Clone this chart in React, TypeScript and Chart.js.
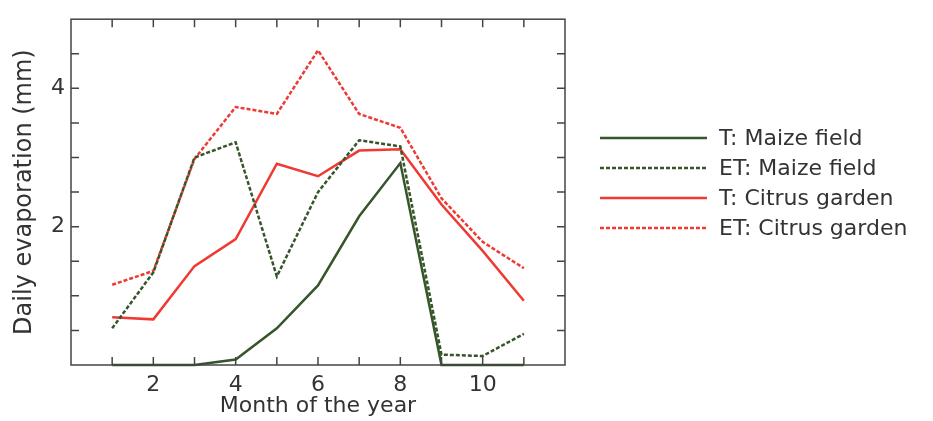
import React, { useEffect, useRef } from "react";
import { Chart, registerables } from "chart.js";

Chart.register(...registerables);

const months = [1, 2, 3, 4, 5, 6, 7, 8, 9, 10, 11];
const tMaize = [0, 0, 0, 0.08, 0.53, 1.15, 2.15, 2.92, 0, 0, 0];
const etMaize = [0.53, 1.34, 3.0, 3.22, 1.28, 2.5, 3.25, 3.16, 0.15, 0.13, 0.45];
const tCitrus = [0.69, 0.66, 1.43, 1.82, 2.91, 2.73, 3.1, 3.12, 2.32, 1.65, 0.93];
const etCitrus = [1.16, 1.36, 2.98, 3.73, 3.63, 4.55, 3.63, 3.43, 2.41, 1.78, 1.4];

const seriesLabels = ["T: Maize field", "ET: Maize field", "T: Citrus garden", "ET: Citrus garden"];
const xLabelTicks = [2, 4, 6, 8, 10];
const yLabelTicks = [2, 4];

const GREEN = "#36552a";
const RED = "#ee3a32";
const TEXT = "#333333";
const FONT = "'DejaVu Sans', sans-serif";

export default function App() {
  const ref = useRef<HTMLCanvasElement | null>(null);

  useEffect(() => {
    if (!ref.current) return;
    const mk = (vals: number[]) => months.map((m, i) => ({ x: m, y: vals[i] }));
    const styles = [
      { color: GREEN, dash: [] as number[] },
      { color: GREEN, dash: [4, 2] },
      { color: RED, dash: [] as number[] },
      { color: RED, dash: [4, 2] },
    ];
    const all = [tMaize, etMaize, tCitrus, etCitrus];

    const framePlugin = {
      id: "frame",
      afterDraw(chart: any) {
        const ctx = chart.ctx;
        const a = chart.chartArea;
        const xs = chart.scales.x;
        const ys = chart.scales.y;
        ctx.save();
        ctx.strokeStyle = "#444";
        ctx.lineWidth = 1.5;
        ctx.setLineDash([]);
        ctx.strokeRect(a.left, a.top, a.right - a.left, a.bottom - a.top);
        const tl = 8;
        ctx.beginPath();
        for (let v = 1; v <= 11; v++) {
          const px = xs.getPixelForValue(v);
          ctx.moveTo(px, a.bottom);
          ctx.lineTo(px, a.bottom - tl);
          ctx.moveTo(px, a.top);
          ctx.lineTo(px, a.top + tl);
        }
        for (let v = 0.5; v < 5; v += 0.5) {
          const py = ys.getPixelForValue(v);
          ctx.moveTo(a.left, py);
          ctx.lineTo(a.left + tl, py);
          ctx.moveTo(a.right, py);
          ctx.lineTo(a.right - tl, py);
        }
        ctx.stroke();

        // legend
        const lx0 = 600, lx1 = 707, tx = 719;
        const rows = [138, 168, 198, 228];
        ctx.font = `22px ${FONT}`;
        ctx.textBaseline = "middle";
        ctx.textAlign = "left";
        rows.forEach((y, i) => {
          ctx.strokeStyle = styles[i].color;
          ctx.lineWidth = 2.5;
          ctx.setLineDash(styles[i].dash);
          ctx.beginPath();
          ctx.moveTo(lx0, y);
          ctx.lineTo(lx1, y);
          ctx.stroke();
          ctx.setLineDash([]);
          ctx.fillStyle = TEXT;
          ctx.fillText(seriesLabels[i], tx, y + 1);
        });
        ctx.restore();
      },
    };

    const chart = new Chart(ref.current, {
      type: "line",
      data: {
        datasets: all.map((vals, i) => ({
          label: seriesLabels[i],
          data: mk(vals),
          borderColor: styles[i].color,
          backgroundColor: styles[i].color,
          borderDash: styles[i].dash,
          borderWidth: 2.5,
          pointRadius: 0,
          tension: 0,
          fill: false,
          clip: false as any,
        })),
      },
      options: {
        animation: false,
        responsive: true,
        maintainAspectRatio: false,
        layout: { padding: { top: 10, right: 368, left: 0, bottom: 0 } },
        plugins: { legend: { display: false }, tooltip: { enabled: false } },
        scales: {
          x: {
            type: "linear",
            min: 0,
            max: 12,
            grid: { display: false, drawTicks: false },
            border: { display: false },
            ticks: {
              stepSize: 1,
              autoSkip: false,
              maxRotation: 0,
              padding: 7,
              color: TEXT,
              font: { family: FONT, size: 22 },
              callback: (v: any) => (xLabelTicks.includes(Number(v)) ? String(v) : ""),
            },
            title: {
              display: true,
              text: "Month of the year",
              color: TEXT,
              font: { family: FONT, size: 22, lineHeight: 1.2 },
              padding: { top: 0, bottom: 2 },
            },
            afterFit: (s: any) => {
              s.height = 56;
            },
          },
          y: {
            min: 0,
            max: 5,
            grid: { display: false, drawTicks: false },
            border: { display: false },
            ticks: {
              stepSize: 0.5,
              autoSkip: false,
              padding: 6,
              color: TEXT,
              font: { family: FONT, size: 22 },
              callback: (v: any) => (yLabelTicks.includes(Number(v)) ? String(v) : ""),
            },
            title: {
              display: true,
              text: "Daily evaporation (mm)",
              color: TEXT,
              font: { family: FONT, size: 24, lineHeight: 1.2 },
              padding: { top: 10, bottom: 0 },
            },
            afterFit: (s: any) => {
              s.width = 71;
            },
          },
        },
      },
      plugins: [framePlugin],
    } as any);
    return () => chart.destroy();
  }, []);

  return (
    <div style={{ position: "absolute", left: 0, top: 0, width: 933, height: 421, background: "#fff" }}>
      <canvas ref={ref} />
    </div>
  );
}
